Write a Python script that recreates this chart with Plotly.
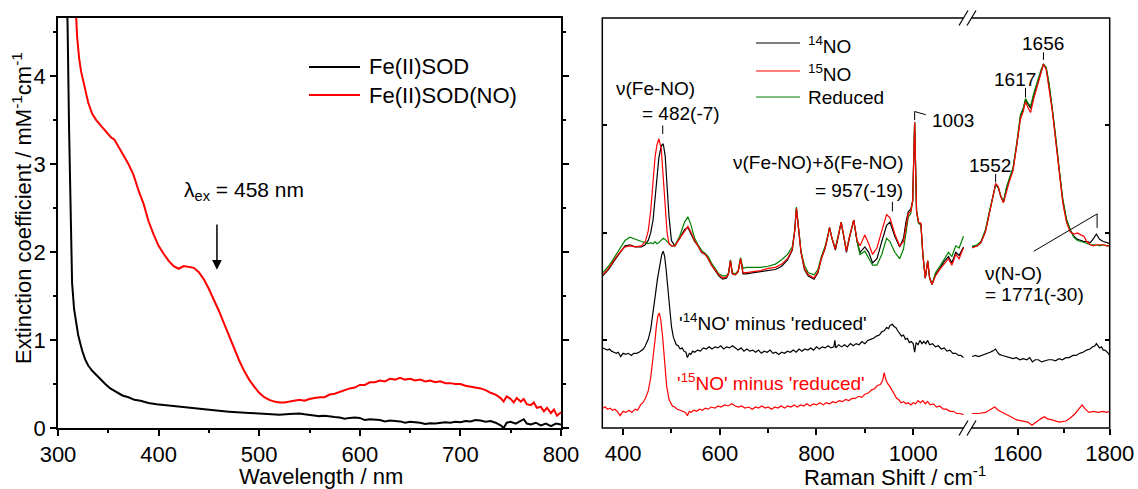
import plotly.graph_objects as go

# ---------------- UV-vis absorption (left panel) ----------------
uv_wl_sod = [308.5, 309.5, 311, 312.5, 314, 316, 318, 320, 322, 324,
             327, 330, 334, 338, 342, 347, 352, 358, 364, 370,
             376, 382, 390, 398, 406, 414, 422, 430, 440, 450,
             460, 470, 480, 490, 500, 510, 520, 530, 540, 545,
             550, 555, 560, 565, 570, 575, 580, 585, 590, 595,
             600, 605, 610, 615, 620, 625, 630, 635, 640, 645,
             650, 655, 660, 665, 670, 675, 680, 685, 690, 695,
             700, 705, 710, 715, 720, 725, 730, 735, 740, 743,
             746, 750, 755, 760, 763, 766, 770, 775, 780, 785,
             790, 795, 800]
uv_eps_sod = [4.9, 4.6, 3.4, 2.3, 1.65, 1.35, 1.18, 1.06, 0.97, 0.88,
              0.78, 0.71, 0.65, 0.60, 0.55, 0.50, 0.45, 0.41, 0.37, 0.35,
              0.32, 0.31, 0.285, 0.27, 0.26, 0.245, 0.235, 0.225, 0.215, 0.205,
              0.195, 0.185, 0.175, 0.17, 0.165, 0.16, 0.15, 0.16, 0.165, 0.155,
              0.15, 0.14, 0.135, 0.14, 0.13, 0.125, 0.12, 0.105, 0.115, 0.12,
              0.115, 0.09, 0.10, 0.095, 0.09, 0.075, 0.085, 0.08, 0.075, 0.06,
              0.07, 0.065, 0.06, 0.045, 0.055, 0.05, 0.06, 0.065, 0.06, 0.07,
              0.065, 0.08, 0.075, 0.09, 0.085, 0.07, 0.08, 0.06, 0.03, 0.0,
              0.06, 0.07, 0.05, 0.08, 0.10, 0.05, 0.04, 0.06, 0.03, 0.05,
              0.02, 0.05, 0.04]

uv_wl_no = [317.5, 319, 321, 323, 326, 330, 334, 338, 343, 348,
            353, 356, 360, 365, 370, 375, 380, 385, 390, 395,
            400, 405, 410, 415, 420, 425, 430, 435, 440, 445,
            450, 455, 460, 465, 470, 475, 480, 485, 490, 495,
            500, 505, 510, 515, 520, 525, 530, 540, 545, 550,
            555, 560, 565, 570, 575, 580, 585, 590, 595, 600,
            605, 610, 615, 620, 625, 630, 635, 640, 645, 650,
            655, 660, 665, 670, 675, 680, 685, 690, 695, 700,
            705, 710, 715, 720, 725, 730, 735, 740, 743, 746,
            750, 753, 756, 760, 763, 766, 770, 773, 776, 780,
            783, 786, 790, 793, 796, 800]
uv_eps_no = [4.8, 4.45, 4.2, 4.05, 3.9, 3.7, 3.57, 3.5, 3.43, 3.37,
             3.3, 3.28, 3.2, 3.1, 3.0, 2.88, 2.7, 2.55, 2.35, 2.2,
             2.07, 1.98, 1.9, 1.84, 1.81, 1.84, 1.83, 1.82, 1.77, 1.69,
             1.58, 1.46, 1.33, 1.19, 1.05, 0.9, 0.77, 0.65, 0.55, 0.47,
             0.40, 0.35, 0.32, 0.30, 0.29, 0.29, 0.30, 0.32, 0.31, 0.33,
             0.34, 0.35, 0.35, 0.38, 0.39, 0.41, 0.43, 0.45, 0.46, 0.49,
             0.49, 0.52, 0.52, 0.54, 0.53, 0.56, 0.55, 0.57, 0.55, 0.56,
             0.54, 0.55, 0.53, 0.54, 0.52, 0.53, 0.51, 0.51, 0.50, 0.50,
             0.48, 0.47, 0.46, 0.45, 0.43, 0.40, 0.38, 0.34, 0.30, 0.36,
             0.33, 0.29, 0.34, 0.30, 0.33, 0.27, 0.26, 0.29, 0.23, 0.24,
             0.19, 0.23, 0.17, 0.21, 0.14, 0.18]

# ---------------- Resonance Raman (right panel) ----------------
# low-frequency window, 358-1104 cm-1
rr_shift_low = [358, 370, 383, 395, 404, 414, 425, 438, 446, 452,
                457, 462, 466, 470, 474, 479, 483, 487, 491, 495,
                500, 507, 517, 527, 534, 540, 548, 555, 562, 570,
                576, 583, 590, 598, 606, 614, 618, 622, 626, 632,
                638, 643, 648, 655, 670, 685, 700, 715, 728, 740,
                750, 755, 758.5, 762, 768, 775, 783, 795, 803, 810,
                818, 824, 827, 832, 839, 845, 851, 856, 862, 868,
                877, 884, 890, 900, 908, 916, 925, 935, 945, 952,
                962, 972, 980, 985, 990, 995, 999, 1003, 1007, 1011,
                1016, 1020, 1025, 1030, 1034, 1039, 1046, 1055, 1065, 1073,
                1080, 1088, 1095, 1104]
rr_14no_low = [0.60, 0.66, 0.75, 0.83, 0.88, 0.89, 0.87, 0.87, 0.89, 0.93,
               1.00, 1.12, 1.30, 1.52, 1.70, 1.81, 1.83, 1.72, 1.45, 1.15,
               0.93, 0.88, 0.95, 1.03, 1.05, 1.00, 0.92, 0.88, 0.82, 0.80,
               0.76, 0.70, 0.65, 0.60, 0.57, 0.58, 0.62, 0.74, 0.62, 0.61,
               0.64, 0.76, 0.62, 0.62, 0.63, 0.64, 0.65, 0.66, 0.69, 0.75,
               0.84, 1.02, 1.23, 1.05, 0.82, 0.66, 0.60, 0.57, 0.63, 0.76,
               0.86, 0.98, 1.05, 0.95, 0.84, 0.96, 1.10, 0.98, 0.82, 0.95,
               1.12, 0.92, 0.82, 0.87, 0.82, 0.72, 0.76, 0.92, 1.07, 1.10,
               0.97, 0.87, 0.95, 1.10, 1.20, 1.22, 1.30, 2.03, 1.20, 1.10,
               1.08, 0.80, 0.58, 0.74, 0.58, 0.52, 0.61, 0.67, 0.74, 0.78,
               0.72, 0.82, 0.79, 0.87]
rr_15no_low = [0.61, 0.67, 0.76, 0.83, 0.87, 0.88, 0.87, 0.88, 0.92, 1.02,
               1.20, 1.50, 1.70, 1.82, 1.876, 1.78, 1.55, 1.25, 1.00, 0.90,
               0.88, 0.88, 0.95, 1.02, 1.06, 1.01, 0.93, 0.88, 0.82, 0.80,
               0.76, 0.70, 0.66, 0.61, 0.58, 0.59, 0.62, 0.74, 0.62, 0.61,
               0.64, 0.76, 0.63, 0.63, 0.64, 0.65, 0.67, 0.68, 0.71, 0.76,
               0.85, 1.02, 1.23, 1.05, 0.82, 0.67, 0.61, 0.58, 0.64, 0.76,
               0.86, 0.98, 1.05, 0.95, 0.85, 0.97, 1.10, 0.98, 0.83, 0.96,
               1.12, 0.93, 0.88, 0.98, 0.90, 0.80, 0.86, 1.02, 1.17, 1.14,
               0.99, 0.88, 0.92, 1.05, 1.18, 1.20, 1.30, 2.03, 1.20, 1.10,
               1.09, 0.80, 0.58, 0.74, 0.58, 0.52, 0.60, 0.66, 0.72, 0.76,
               0.70, 0.80, 0.76, 0.86]
rr_red_low = [0.63, 0.69, 0.78, 0.86, 0.93, 0.96, 0.94, 0.92, 0.91, 0.90,
              0.91, 0.90, 0.92, 0.90, 0.91, 0.93, 0.95, 0.94, 0.92, 0.90,
              0.88, 0.88, 0.97, 1.10, 1.15, 1.08, 0.95, 0.89, 0.84, 0.81,
              0.78, 0.72, 0.67, 0.62, 0.60, 0.60, 0.63, 0.75, 0.63, 0.62,
              0.65, 0.77, 0.67, 0.68, 0.68, 0.68, 0.69, 0.71, 0.75, 0.80,
              0.87, 1.03, 1.24, 1.06, 0.83, 0.70, 0.63, 0.61, 0.66, 0.78,
              0.88, 0.99, 1.05, 0.95, 0.86, 0.98, 1.10, 0.98, 0.84, 0.96,
              1.12, 0.92, 0.80, 0.83, 0.76, 0.70, 0.70, 0.80, 0.95, 0.92,
              0.82, 0.76, 0.85, 1.00, 1.15, 1.18, 1.30, 2.03, 1.20, 1.09,
              1.07, 0.80, 0.58, 0.74, 0.58, 0.52, 0.63, 0.69, 0.76, 0.82,
              0.78, 0.88, 0.86, 0.97]

# high-frequency window, 1501-1800 cm-1
rr_shift_high = [1501, 1512, 1520, 1530, 1538, 1545, 1552, 1558, 1563, 1569,
                 1576, 1582, 1590, 1598, 1606, 1612, 1617, 1622, 1628, 1635,
                 1643, 1650, 1656, 1662, 1668, 1675, 1682, 1690, 1698, 1706,
                 1714, 1722, 1730, 1738, 1744, 1750, 1758, 1765, 1771, 1778,
                 1786, 1794, 1800]
rr_14no_high = [0.87, 0.88, 0.91, 1.02, 1.18, 1.33, 1.45, 1.42, 1.34, 1.29,
                1.42, 1.50, 1.60, 1.82, 2.08, 2.15, 2.24, 2.20, 2.16, 2.28,
                2.40, 2.50, 2.57, 2.53, 2.38, 2.16, 1.90, 1.58, 1.30, 1.12,
                1.03, 0.97, 0.94, 0.93, 0.92, 0.92, 0.91, 0.95, 0.99, 0.94,
                0.92, 0.91, 0.90]
rr_15no_high = [0.86, 0.88, 0.91, 1.01, 1.17, 1.33, 1.46, 1.43, 1.34, 1.28,
                1.40, 1.48, 1.58, 1.80, 2.06, 2.13, 2.22, 2.17, 2.12, 2.25,
                2.38, 2.48, 2.57, 2.52, 2.36, 2.14, 1.88, 1.56, 1.28, 1.10,
                1.01, 0.99, 1.00, 0.98, 0.97, 0.92, 0.89, 0.88, 0.89, 0.89,
                0.89, 0.88, 0.88]
rr_red_high = [0.875, 0.89, 0.92, 1.03, 1.19, 1.33, 1.45, 1.42, 1.35, 1.29,
               1.43, 1.51, 1.61, 1.84, 2.10, 2.16, 2.25, 2.21, 2.18, 2.30,
               2.42, 2.51, 2.57, 2.54, 2.40, 2.18, 1.92, 1.60, 1.32, 1.13,
               1.03, 0.96, 0.93, 0.92, 0.91, 0.90, 0.89, 0.89, 0.89, 0.88,
               0.89, 0.88, 0.88]

# difference spectra ('14NO' minus 'reduced', '15NO' minus 'reduced')
d14_shift_low = [358, 363, 368, 372, 376, 381, 386, 390, 395, 400,
                 405, 411, 417, 422, 428, 433, 438, 442, 446, 452,
                 457, 462, 467, 471, 476, 480, 483, 486, 489, 493,
                 496, 500, 504, 510, 514, 518, 522, 526, 530, 533,
                 537, 540, 544, 548, 554, 560, 566, 572, 578, 584,
                 590, 596, 602, 608, 614, 620, 626, 632, 638, 644,
                 650, 656, 662, 668, 674, 680, 686, 692, 698, 704,
                 710, 716, 722, 728, 734, 740, 746, 752, 758, 764,
                 770, 776, 782, 788, 794, 800, 806, 812, 818, 824,
                 830, 836, 838, 840, 846, 852, 858, 864, 870, 876,
                 882, 888, 894, 900, 906, 912, 918, 924, 930, 935,
                 940, 945, 949, 952, 957, 960, 964, 968, 972, 976,
                 980, 984, 988, 992, 996, 1000, 1003, 1006, 1010, 1014,
                 1018, 1022, 1026, 1030, 1034, 1040, 1046, 1052, 1058, 1064,
                 1070, 1076, 1082, 1088, 1094, 1099, 1104]
d14_low = [-0.07, -0.08, -0.09, -0.08, -0.10, -0.11, -0.12, -0.11, -0.15, -0.12,
           -0.13, -0.12, -0.14, -0.12, -0.12, -0.11, -0.09, -0.08, -0.05, 0.01,
           0.10, 0.25, 0.43, 0.57, 0.72, 0.80, 0.83, 0.78, 0.66, 0.46,
           0.29, 0.13, 0.03, -0.04, -0.05, -0.08, -0.07, -0.10, -0.11, -0.16,
           -0.12, -0.13, -0.10, -0.11, -0.09, -0.10, -0.07, -0.08, -0.06, -0.08,
           -0.06, -0.07, -0.05, -0.08, -0.06, -0.07, -0.05, -0.07, -0.09, -0.07,
           -0.10, -0.08, -0.10, -0.09, -0.11, -0.09, -0.12, -0.10, -0.11, -0.09,
           -0.12, -0.11, -0.13, -0.11, -0.12, -0.10, -0.11, -0.09, -0.11, -0.08,
           -0.10, -0.08, -0.09, -0.07, -0.09, -0.06, -0.08, -0.06, -0.07, -0.05,
           -0.07, -0.06, 0.00, -0.07, -0.04, -0.06, -0.04, -0.06, -0.03, -0.05,
           -0.03, -0.04, -0.01, -0.03, 0.00, 0.01, 0.02, 0.04, 0.05, 0.08,
           0.09, 0.12, 0.11, 0.14, 0.15, 0.13, 0.12, 0.09, 0.07, 0.04,
           0.05, 0.01, 0.02, -0.02, -0.01, -0.03, -0.11, -0.02, -0.04, 0.00,
           -0.03, -0.01, -0.03, 0.00, -0.04, -0.03, -0.06, -0.05, -0.08, -0.07,
           -0.10, -0.09, -0.12, -0.12, -0.14, -0.14, -0.16]
d14_shift_high = [1501, 1508, 1515, 1522, 1530, 1536, 1540, 1545, 1548, 1552,
                  1556, 1560, 1567, 1575, 1582, 1590, 1597, 1605, 1612, 1620,
                  1626, 1632, 1638, 1645, 1652, 1660, 1667, 1675, 1682, 1690,
                  1697, 1705, 1712, 1720, 1727, 1735, 1742, 1750, 1757, 1763,
                  1768, 1771, 1775, 1778, 1782, 1786, 1790, 1793, 1797, 1800]
d14_high = [-0.15, -0.14, -0.15, -0.14, -0.13, -0.12, -0.11, -0.10, -0.09, -0.08,
            -0.11, -0.13, -0.14, -0.15, -0.16, -0.17, -0.16, -0.18, -0.17, -0.18,
            -0.16, -0.20, -0.18, -0.18, -0.20, -0.19, -0.18, -0.18, -0.19, -0.17,
            -0.18, -0.16, -0.16, -0.14, -0.14, -0.12, -0.11, -0.09, -0.08, -0.06,
            -0.05, -0.03, -0.05, -0.07, -0.06, -0.09, -0.09, -0.10, -0.12, -0.14]

d15_shift_low = [358, 363, 368, 373, 378, 383, 388, 394, 400, 406,
                 412, 418, 425, 430, 436, 441, 446, 452, 457, 462,
                 466, 469, 472, 475, 478, 482, 486, 490, 495, 502,
                 507, 512, 518, 525, 529, 533, 537, 540, 546, 552,
                 558, 564, 570, 576, 582, 590, 596, 602, 610, 617,
                 625, 632, 638, 645, 652, 660, 667, 674, 680, 687,
                 694, 700, 707, 714, 720, 727, 734, 740, 747, 754,
                 760, 767, 774, 780, 787, 794, 800, 807, 814, 820,
                 827, 834, 840, 847, 854, 860, 867, 874, 880, 887,
                 894, 900, 907, 914, 920, 926, 932, 937, 940, 943,
                 947, 952, 958, 962, 966, 970, 975, 980, 985, 990,
                 995, 1000, 1005, 1010, 1015, 1020, 1025, 1030, 1035, 1042,
                 1048, 1055, 1062, 1069, 1076, 1083, 1090, 1097, 1104]
d15_low = [-0.63, -0.62, -0.64, -0.63, -0.65, -0.64, -0.66, -0.70, -0.66, -0.67,
           -0.65, -0.67, -0.64, -0.65, -0.60, -0.58, -0.54, -0.47, -0.35, -0.18,
           0.00, 0.14, 0.23, 0.255, 0.19, 0.02, -0.22, -0.42, -0.55, -0.61,
           -0.62, -0.64, -0.65, -0.66, -0.67, -0.70, -0.66, -0.67, -0.65, -0.66,
           -0.64, -0.65, -0.63, -0.64, -0.62, -0.63, -0.61, -0.62, -0.60, -0.61,
           -0.59, -0.61, -0.62, -0.61, -0.63, -0.62, -0.64, -0.62, -0.63, -0.61,
           -0.63, -0.62, -0.64, -0.62, -0.63, -0.61, -0.63, -0.61, -0.62, -0.60,
           -0.62, -0.60, -0.61, -0.59, -0.61, -0.59, -0.60, -0.58, -0.60, -0.58,
           -0.59, -0.57, -0.58, -0.56, -0.57, -0.55, -0.56, -0.54, -0.54, -0.52,
           -0.53, -0.50, -0.49, -0.46, -0.45, -0.42, -0.41, -0.37, -0.30, -0.36,
           -0.40, -0.43, -0.48, -0.50, -0.54, -0.55, -0.58, -0.57, -0.59, -0.58,
           -0.60, -0.58, -0.59, -0.56, -0.58, -0.56, -0.59, -0.57, -0.60, -0.59,
           -0.62, -0.61, -0.64, -0.64, -0.66, -0.66, -0.68, -0.68, -0.69]
d15_shift_high = [1501, 1515, 1530, 1542, 1550, 1558, 1570, 1585, 1598, 1612,
                  1622, 1631, 1640, 1650, 1658, 1665, 1675, 1690, 1705, 1715,
                  1725, 1732, 1740, 1747, 1755, 1765, 1775, 1785, 1793, 1800]
d15_high = [-0.68, -0.68, -0.67, -0.64, -0.62, -0.65, -0.68, -0.71, -0.74, -0.75,
            -0.76, -0.79, -0.76, -0.73, -0.71, -0.73, -0.74, -0.76, -0.75, -0.72,
            -0.68, -0.64, -0.60, -0.64, -0.67, -0.66, -0.67, -0.66, -0.67, -0.66]

# ---------------- layout helpers ----------------
W, H = 1138, 489
FONT = "Liberation Sans, Arial, Helvetica, sans-serif"
BLACK, RED, GREEN = "#000000", "#ff0000", "#008000"


def fx(p):
    return p / W


def fy(p):
    return 1 - p / H


LEFT_DOM = [fx(58), fx(561)]
Y_DOM = [fy(428), fy(18)]
BREAK_PX = 967
SEG1_DOM = [fx(602.3), fx(BREAK_PX)]
SEG2_DOM = [fx(BREAK_PX), fx(1109.7)]

fig = go.Figure()

# left panel traces
fig.add_trace(go.Scatter(x=uv_wl_sod, y=uv_eps_sod, mode="lines",
                         line=dict(color=BLACK, width=2), xaxis="x", yaxis="y"))
fig.add_trace(go.Scatter(x=uv_wl_no, y=uv_eps_no, mode="lines",
                         line=dict(color=RED, width=2), xaxis="x", yaxis="y"))

# right panel traces
rr_w = 1.2
for xs, ys, col in [(rr_shift_low, rr_14no_low, BLACK),
                    (rr_shift_low, rr_red_low, GREEN),
                    (rr_shift_low, rr_15no_low, RED),
                    (d14_shift_low, d14_low, BLACK),
                    (d15_shift_low, d15_low, RED)]:
    fig.add_trace(go.Scatter(x=xs, y=ys, mode="lines", line=dict(color=col, width=rr_w),
                             xaxis="x2", yaxis="y2"))
for xs, ys, col in [(rr_shift_high, rr_14no_high, BLACK),
                    (rr_shift_high, rr_red_high, GREEN),
                    (rr_shift_high, rr_15no_high, RED),
                    (d14_shift_high, d14_high, BLACK),
                    (d15_shift_high, d15_high, RED)]:
    fig.add_trace(go.Scatter(x=xs, y=ys, mode="lines", line=dict(color=col, width=rr_w),
                             xaxis="x3", yaxis="y3"))

tickfont = dict(family=FONT, size=22, color=BLACK)
common_x = dict(ticks="outside", ticklen=6, tickwidth=1.5, tickcolor=BLACK,
                showgrid=False, zeroline=False, tickfont=tickfont, automargin=False)

y_raman = dict(domain=Y_DOM, range=[-0.815, 3.0], tickvals=[0, 1, 2], ticks="inside",
               ticklen=5, tickwidth=1.5, tickcolor=BLACK, showticklabels=False,
               showgrid=False, zeroline=False, showline=False, automargin=False)

fig.update_layout(
    template="none",
    width=W, height=H, margin=dict(l=0, r=0, t=0, b=0, pad=0), autosize=False,
    paper_bgcolor="white", plot_bgcolor="white", showlegend=False,
    font=dict(family=FONT, color=BLACK),
    xaxis=dict(domain=LEFT_DOM, range=[300, 800], anchor="y", dtick=100,
               showline=True, linecolor=BLACK, linewidth=1.5, mirror=True,
               minor=dict(dtick=50, ticks="outside", ticklen=3.5, tickwidth=1.5,
                          tickcolor=BLACK), **common_x),
    yaxis=dict(domain=Y_DOM, range=[0, 4.66], anchor="x", dtick=1,
               showline=True, linecolor=BLACK, linewidth=1.5, mirror="ticks",
               ticks="outside", ticklen=6, tickwidth=1.5, tickcolor=BLACK,
               minor=dict(dtick=0.5, ticks="outside", ticklen=3.5, tickwidth=1.5,
                          tickcolor=BLACK),
               showgrid=False, zeroline=False, tickfont=tickfont, automargin=False),
    xaxis2=dict(domain=SEG1_DOM, range=[357, 1111.3], anchor="y2", showline=False,
                tickmode="array", tickvals=[400, 600, 800, 1000],
                minor=dict(tickmode="array", tickvals=[500, 700, 900], ticks="outside",
                           ticklen=3.5, tickwidth=1.5, tickcolor=BLACK), **common_x),
    xaxis3=dict(domain=SEG2_DOM, range=[1489.8, 1800], anchor="y3", showline=False,
                tickmode="array", tickvals=[1600, 1800],
                minor=dict(tickmode="array", tickvals=[1700], ticks="outside",
                           ticklen=3.5, tickwidth=1.5, tickcolor=BLACK), **common_x),
    yaxis2=dict(anchor="x2", side="left", **y_raman),
    yaxis3=dict(anchor="x3", side="right", **y_raman),
)

shapes = []
ann = []


def pline(x0, y0, x1, y1, color=BLACK, width=1.2):
    shapes.append(dict(type="line", xref="paper", yref="paper",
                       x0=fx(x0), y0=fy(y0), x1=fx(x1), y1=fy(y1),
                       line=dict(color=color, width=width)))


def dline(xr, yr, x0, y0, x1, y1, width=1.0):
    shapes.append(dict(type="line", xref=xr, yref=yr, x0=x0, y0=y0, x1=x1, y1=y1,
                       line=dict(color=BLACK, width=width)))


def text(x, y, s, size=19, color=BLACK, xanchor="center"):
    ann.append(dict(x=fx(x), y=fy(y), xref="paper", yref="paper", text=s,
                    showarrow=False, xanchor=xanchor, yanchor="middle",
                    font=dict(family=FONT, size=size, color=color)))


# right panel frame with axis-break marks
shapes.append(dict(type="rect", xref="paper", yref="paper",
                   x0=fx(602.3), y0=fy(428), x1=fx(1109.7), y1=fy(18),
                   line=dict(color=BLACK, width=1.5), layer="above"))
for yb in (428, 18):
    x0 = BREAK_PX - 8
    path = "M {} {} L {} {} L {} {} L {} {} Z".format(
        fx(x0), fy(yb + 7.5), fx(x0 + 9), fy(yb - 7.5),
        fx(x0 + 17), fy(yb - 7.5), fx(x0 + 8), fy(yb + 7.5))
    shapes.append(dict(type="path", xref="paper", yref="paper", path=path,
                       fillcolor="white", line=dict(width=0), layer="above"))
    pline(x0, yb + 7.5, x0 + 9, yb - 7.5, width=1.2)
    pline(x0 + 8, yb + 7.5, x0 + 17, yb - 7.5, width=1.2)

# left panel legend
pline(309, 67, 360, 67, BLACK, 2)
pline(309, 95, 360, 95, RED, 2)
text(367, 67, "Fe(II)SOD", size=22, xanchor="left")
text(367, 95, "Fe(II)SOD(NO)", size=22, xanchor="left")

# excitation wavelength marker
text(244, 191, "λ<sub>ex</sub> = 458 nm", size=21)
ann.append(dict(x=458, y=1.80, ax=458, ay=2.33, xref="x", yref="y", axref="x", ayref="y",
                text="", showarrow=True, arrowhead=2, arrowsize=1.3, arrowwidth=1.5,
                arrowcolor=BLACK))

# axis titles
text(321, 476, "Wavelength / nm", size=22)
ann.append(dict(x=fx(22), y=fy(208), xref="paper", yref="paper",
                text="Extinction coefficient / mM<sup>-1</sup>cm<sup>-1</sup>",
                textangle=-90, showarrow=False, xanchor="center", yanchor="middle",
                font=dict(family=FONT, size=22, color=BLACK)))
text(895, 476, "Raman Shift / cm<sup>-1</sup>", size=22)

# right panel legend
pline(756, 43, 800, 43, BLACK, 1.2)
pline(756, 71, 800, 71, RED, 1.2)
pline(756, 97, 800, 97, GREEN, 1.2)
text(806, 45, "<sup>14</sup>NO", xanchor="left")
text(806, 73, "<sup>15</sup>NO", xanchor="left")
text(806, 97, "Reduced", xanchor="left")

# band assignments
text(655, 88, "ν(Fe-NO)")
text(681, 113, "= 482(-7)")
dline("x2", "y2", 482, 1.92, 482, 2.00)
text(905, 163, "ν(Fe-NO)+δ(Fe-NO)", xanchor="right")
text(905, 190, "= 957(-19)", xanchor="right")
dline("x2", "y2", 957, 1.20, 957, 1.29)
text(930, 120, "1003", xanchor="left")
dline("x2", "y2", 1003, 2.05, 1003, 2.13)
dline("x2", "y2", 1003, 2.13, 1026, 2.10)
text(990, 165, "1552")
dline("x3", "y3", 1552, 1.47, 1552, 1.55)
text(1014.5, 80, "1617")
dline("x3", "y3", 1617, 2.26, 1617, 2.35)
text(1042.5, 44, "1656")
dline("x3", "y3", 1656, 2.61, 1656, 2.68)
dline("x3", "y3", 1634.8, 0.829, 1772.6, 1.177)
dline("x3", "y3", 1772.6, 1.177, 1772.6, 1.047)
text(983, 273, "ν(N-O)", xanchor="left")
text(983, 294, "= 1771(-30)", xanchor="left")

# difference-spectrum labels
text(677, 322, "'<sup>14</sup>NO' minus 'reduced'", xanchor="left")
text(675, 382, "'<sup>15</sup>NO' minus 'reduced'", color=RED, xanchor="left")

fig.update_layout(shapes=shapes, annotations=ann)
fig.write_html("out.html")
